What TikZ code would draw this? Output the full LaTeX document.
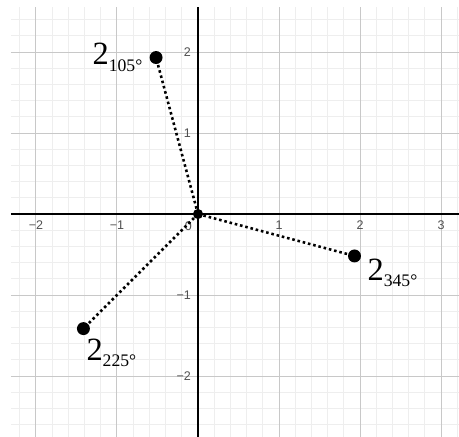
\documentclass[tikz,border=0pt]{standalone}
\usepackage{fontspec}
\setmainfont{Liberation Serif}
\setsansfont{Liberation Sans}
\usetikzlibrary{positioning}
\definecolor{gridmin}{HTML}{EEEEEE}
\definecolor{gridmaj}{HTML}{C8C8C8}
\definecolor{ticktxt}{HTML}{505050}
\newcommand\polr[1]{{\fontsize{11.4}{12}\selectfont 2}\raisebox{-2.2pt}{\fontsize{6.2}{7}\selectfont #1°}}

\begin{document}
\begin{tikzpicture}[x=1cm,y=1cm,
  pt/.style={circle,fill=black,inner sep=0pt,minimum size=1.6mm},
  org/.style={circle,fill=black,inner sep=0pt,minimum size=1.25mm},
  ray/.style={black,line width=0.9pt,dash pattern=on 0.9pt off 1pt},
  lbl/.style={inner sep=0pt,font=\rmfamily},
  tick/.style={inner sep=0pt,text=ticktxt,font=\sffamily\fontsize{4.4}{5}\selectfont}]
\useasboundingbox (-2.444,-2.741) rectangle (3.222,2.642);
\draw[gridmin,line width=0.35pt,step=0.2] (-2.31,-2.76) grid (3.23,2.555);
\draw[gridmaj,line width=0.35pt,step=1] (-2.31,-2.76) grid (3.23,2.555);
\draw[black,line width=0.4pt] (-2.31,0) -- (3.23,0);
\draw[black,line width=0.4pt] (0,-2.76) -- (0,2.555);
% tick labels
\foreach \x/\lab [count=\i] in {-2/−2,-1/−1,1/1,2/2,3/3}
  \node[tick] (xt\i) at (\x,-0.14) {\lab};
\foreach \y/\lab [count=\i] in {-2/−2,-1/−1,1/1,2/2}
  \node[tick,anchor=east] (yt\i) at (-0.08,\y) {\lab};
\node[tick] (zero) at (-0.12,-0.15) {0};
% points
\node[org] (O) at (0,0) {};
\node[pt] (p105) at (105:2) {};
\node[pt] (p225) at (225:2) {};
\node[pt] (p345) at (345:2) {};
\foreach \p in {p105,p225,p345}
  \draw[ray] (O) -- (\p);
\node[lbl,anchor=base east] (l105) at (-0.68,1.84) {\polr{105}};
\node[lbl,anchor=base west] (l225) at (-1.383,-1.802) {\polr{225}};
\node[lbl,anchor=base west] (l345) at (2.086,-0.815) {\polr{345}};
\end{tikzpicture}
\end{document}
